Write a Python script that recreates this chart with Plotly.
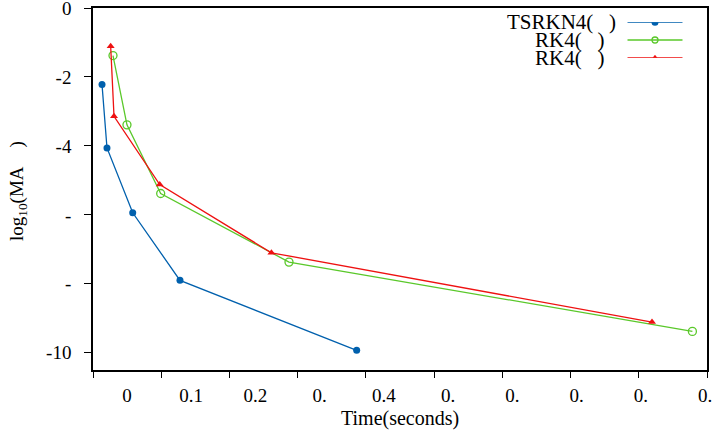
import plotly.graph_objects as go

# ---- data ----
time_tsrkn4 = [0.0132, 0.0205, 0.0582, 0.1275, 0.3865]
err_tsrkn4 = [-2.22, -4.06, -5.94, -7.90, -9.93]

time_rk4_a = [0.0293, 0.0498, 0.0992, 0.2873, 0.8786]
err_rk4_a = [-1.38, -3.39, -5.38, -7.37, -9.38]

time_rk4_b = [0.0259, 0.0308, 0.0978, 0.2615, 0.8194]
err_rk4_b = [-1.11, -3.14, -5.12, -7.10, -9.11]

series_names = ["TSRKN4(\u00a0\u00a0\u00a0)", "RK4(\u00a0\u00a0\u00a0)", "RK4(\u00a0\u00a0\u00a0)"]

x_tick_vals = [0, 0.1, 0.2, 0.3, 0.4, 0.5, 0.6, 0.7, 0.8, 0.9]
x_tick_text = ["0", "0.1", "0.2", "0.", "0.4", "0.", "0.", "0.", "0.", "0."]
y_tick_vals = [0, -2, -4, -6, -8, -10]
y_tick_text = ["0", "-2", "-4", "-", "-", "-10"]

# ---- styles ----
FONT = "Liberation Serif"
BLUE = "#0060ad"
GREEN = "#5ac82a"
RED = "#ee1111"
styles = [
    dict(color=BLUE, symbol="circle", size=7, line=dict(width=0)),
    dict(color=GREEN, symbol="circle-open", size=8, line=dict(color=GREEN, width=1.3)),
    dict(color=RED, symbol="triangle-up", size=7, line=dict(width=0)),
]
legend_marker_sizes = [7, 6, 6]
line_colors = [BLUE, GREEN, RED]

fig = go.Figure()
xs = [time_tsrkn4, time_rk4_a, time_rk4_b]
ys = [err_tsrkn4, err_rk4_a, err_rk4_b]
for i in range(3):
    fig.add_trace(go.Scatter(
        x=xs[i], y=ys[i], mode="lines+markers", name=series_names[i],
        line=dict(color=line_colors[i], width=1.3),
        marker=styles[i], showlegend=False, cliponaxis=False,
    ))

# dummy trace to register the tick-label axis
fig.add_trace(go.Scatter(x=[], y=[], xaxis="x2", yaxis="y", showlegend=False, hoverinfo="skip"))

# custom legend keys (gnuplot-style: text left, sample right)
for i in range(3):
    fig.add_trace(go.Scatter(
        x=[0, 1], y=[i, i], mode="lines", xaxis="x3", yaxis="y3",
        line=dict(color=line_colors[i], width=1.4),
        showlegend=False, hoverinfo="skip",
    ))
    fig.add_trace(go.Scatter(
        x=[0.5], y=[i], mode="markers", xaxis="x3", yaxis="y3",
        marker=dict(styles[i], size=legend_marker_sizes[i]), showlegend=False, hoverinfo="skip",
    ))

L, R, T, B = 93, 9, 8, 60
W, H = 716, 430
pw = W - L - R
ph = H - T - B

def px_to_paper_x(px):
    return (px - L) / pw

def px_to_paper_y(py):
    return (H - B - py) / ph

# label axis range: label 0 at px 127, label 0.9 at px 705
lab0, lab9 = 127.0, 705.0
scale = (lab9 - lab0) / 0.9
x2_range = [-(lab0 - L) / scale, (L + pw - lab0) / scale]

axis_font = dict(family=FONT, size=19, color="black")

annotations = [
    dict(text="Time(seconds)", xref="paper", yref="paper", x=0.5, y=px_to_paper_y(418),
         xanchor="center", yanchor="middle", showarrow=False,
         font=dict(family=FONT, size=20, color="black")),
    dict(text="log<sub>10</sub>(MA\u00a0\u00a0\u00a0\u00a0)", xref="paper", yref="paper",
         x=px_to_paper_x(18), y=px_to_paper_y(191), textangle=-90,
         xanchor="center", yanchor="middle", showarrow=False,
         font=dict(family=FONT, size=19, color="black")),
]
legend_rows_px = [22.3, 40.0, 57.7]
legend_right_px = [618, 606, 606]
for i in range(3):
    annotations.append(dict(
        text=series_names[i], xref="paper", yref="paper",
        x=px_to_paper_x(legend_right_px[i]), y=px_to_paper_y(legend_rows_px[i]),
        xanchor="right", yanchor="middle", showarrow=False,
        font=dict(family=FONT, size=21, color="black"),
    ))

fig.update_layout(
    template="none",
    width=W, height=H,
    margin=dict(l=L, r=R, t=T, b=B, pad=0, autoexpand=False),
    paper_bgcolor="white", plot_bgcolor="white",
    font=dict(family=FONT, color="black"),
    xaxis=dict(
        range=[0, 0.9], tickvals=x_tick_vals, showticklabels=False,
        ticks="outside", ticklen=6, tickwidth=1.3, tickcolor="black",
        showline=True, linecolor="black", linewidth=1.5, mirror=True,
        showgrid=False, zeroline=False, automargin=False,
    ),
    xaxis2=dict(
        overlaying="x", anchor="y", side="bottom", range=x2_range,
        tickvals=x_tick_vals, ticktext=x_tick_text, ticks="",
        showline=False, showgrid=False, zeroline=False, automargin=False,
        tickfont=axis_font, ticklabelstandoff=12, ticklabeloverflow="allow",
    ),
    yaxis=dict(
        range=[-10.5, 0], tickvals=y_tick_vals, ticktext=y_tick_text,
        ticks="outside", ticklen=7, tickwidth=1.3, tickcolor="black",
        showline=True, linecolor="black", linewidth=1.5, mirror=True,
        showgrid=False, zeroline=False, tickfont=axis_font, ticklabelstandoff=9,
        ticklabeloverflow="allow", automargin=False,
    ),
    xaxis3=dict(domain=[px_to_paper_x(627.3), px_to_paper_x(682.7)], range=[0, 1],
                anchor="y3", visible=False, automargin=False),
    yaxis3=dict(domain=[px_to_paper_y(legend_rows_px[2]) - 0.0001, px_to_paper_y(legend_rows_px[0]) + 0.0001],
                range=[2, 0], anchor="x3", visible=False, automargin=False),
    annotations=annotations,
    showlegend=False,
)

fig.write_html("out.html")
